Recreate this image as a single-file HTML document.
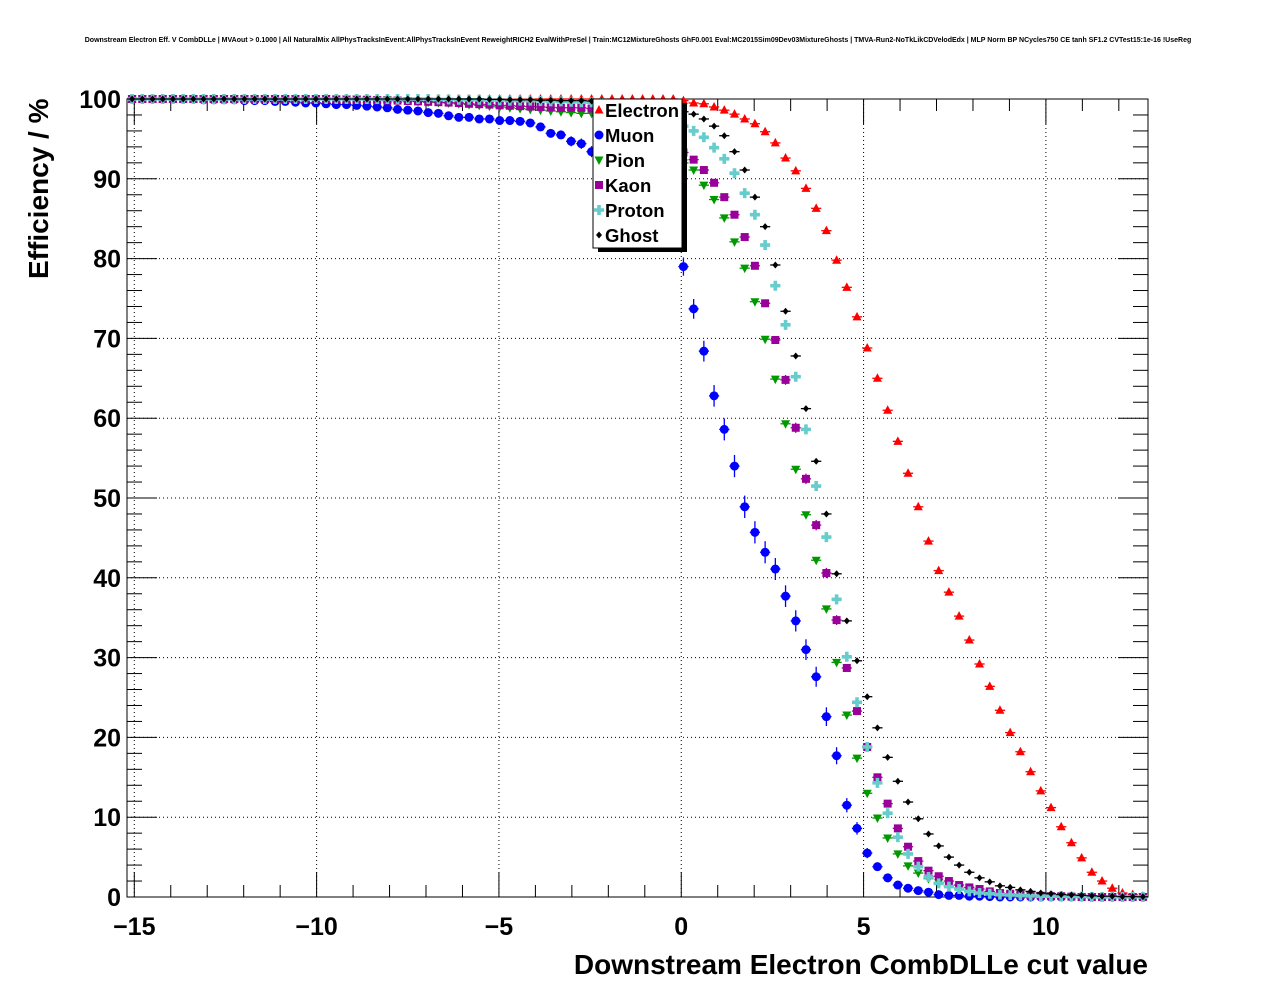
<!DOCTYPE html>
<html><head><meta charset="utf-8">
<style>
html,body{margin:0;padding:0;background:#fff;}
body{width:1276px;height:996px;overflow:hidden;font-family:"Liberation Sans",sans-serif;}
svg text{font-family:"Liberation Sans",sans-serif;}
</style></head>
<body>
<svg id="chart" width="1276" height="996" xmlns="http://www.w3.org/2000/svg">
<text x="638" y="42" text-anchor="middle" font-size="7" font-weight="bold">Downstream Electron Eff. V CombDLLe | MVAout &gt; 0.1000 | All NaturalMix AllPhysTracksInEvent:AllPhysTracksInEvent ReweightRICH2 EvalWithPreSel | Train:MC12MixtureGhosts GhF0.001 Eval:MC2015Sim09Dev03MixtureGhosts | TMVA-Run2-NoTkLikCDVelodEdx | MLP Norm BP NCycles750 CE tanh SF1.2 CVTest15:1e-16 !UseReg</text>
<g id="grid"></g>
<g id="axes"></g>
<g id="marks"></g>
<g id="legend"></g>
<text transform="translate(48,279) rotate(-90)" font-size="28" font-weight="bold">Efficiency / %</text>
<text x="1148" y="974" text-anchor="end" font-size="28" font-weight="bold">Downstream Electron CombDLLe cut value</text>
</svg>
<script>
const xTicks=[-15,-10,-5,0,5,10];
const xTickLabels=["\u221215","\u221210","\u22125","0","5","10"];
const yTicks=[0,10,20,30,40,50,60,70,80,90,100];
const binStart=-15.2, binWidth=0.28, nBins=100;
const speciesNames=["Electron","Muon","Pion","Kaon","Proton","Ghost"];
function pad(arr,n,v){const o=arr.slice();while(o.length<n)o.push(v);return o;}
function fill(v,n){return new Array(n).fill(v);}
const electron=fill(100,54).concat([99.8,99.5,99.4,99,98.6,98.1,97.5,96.9,95.9,94.5,92.6,91,88.8,86.3,83.5,79.8,76.4,72.7,68.8,65,61,57.1,53.1,48.9,44.6,40.9,38.2,35.2,32.2,29.2,26.4,23.4,20.6,18.2,15.7,13.3,11.2,8.8,6.8,4.9,3.1,2,1.1,0.5,0.3,0.1]);
const muon=pad([100,100,100,100,100,100,100,99.9,99.9,99.9,99.9,99.8,99.8,99.8,99.7,99.7,99.6,99.5,99.5,99.4,99.3,99.3,99.2,99.1,99.0,
98.9,98.7,98.6,98.5,98.3,98.2,97.9,97.7,97.7,97.5,97.5,97.3,97.3,97.2,97.0,96.5,95.7,95.5,94.7,94.4,93.4,
92.5,91.5,90.3,89,87.5,86,84.3,82.5,
79,73.7,68.4,62.8,58.6,54,48.9,45.7,43.2,41.1,37.7,34.6,31,27.6,22.6,17.7,11.5,8.6,5.5,3.8,2.4,1.5,1.1,0.8,0.6,0.3,0.2,0.2,0.1,0.1,0.05],100,0);
const pion=pad(fill(100,23).concat([99.95,99.9,99.9,99.85,99.8,99.7,99.6,99.55,99.5,99.4,99.3,99.2,99.1,99.0,98.9,98.8,98.7,98.6,98.5,98.4,98.3,98.2,98.2,
97.8,97.3,96.8,96.2,95.5,94.7,93.8,92.8,92.0,
91.1,89.2,87.4,85.1,82.1,78.8,74.6,69.9,64.9,59.3,53.6,47.9,42.2,36.1,29.4,22.8,17.4,
13.0,9.9,7.4,5.4,3.9,3.0,2.3,1.8,1.4,1.1,0.8,0.6,0.5,0.4,0.3,0.2,0.15,0.1,0.1,0.05]),100,0);
const kaon=pad(fill(100,20).concat([99.95,99.9,99.9,99.9,99.85,99.8,99.8,99.75,99.7,99.65,99.6,99.55,99.5,99.4,99.35,99.3,99.2,99.15,99.1,99.05,99.0,98.95,98.9,98.9,98.9,98.8,
98.5,98,97.5,97,96.5,95.8,95,94.2,93.3,
92.4,91.1,89.5,87.7,85.5,82.7,79.1,74.4,69.8,64.8,58.8,52.4,46.6,40.6,34.7,28.7,23.3,18.8,15.0,
11.7,8.6,6.3,4.5,3.3,2.6,2.0,1.5,1.2,1.0,0.7,0.5,0.4,0.3,0.2,0.15,0.1,0.1,0.05]),100,0);
const proton=pad(fill(100,30).concat([99.95,99.95,99.9,99.9,99.9,99.85,99.85,99.8,99.8,99.8,99.75,99.7,99.7,99.65,99.6,99.6,
99.5,99.3,99,98.8,98.5,98.1,97.6,97.1,96.6,
96.0,95.2,93.9,92.5,90.7,88.2,85.5,81.7,76.6,71.7,65.2,58.6,51.5,45.1,37.3,30.1,24.4,18.8,14.3,
10.5,7.5,5.4,3.8,2.5,1.7,1.3,1.0,0.7,0.5,0.4,0.3,0.25,0.2,0.15,0.1,0.1,0.1,0.05,0.05]),100,0);
const ghost=fill(100,35).concat([99.95,99.95,99.9,99.9,99.9,99.85,99.85,99.8,99.8,99.8,
99.75,99.7,99.6,99.5,99.4,99.3,99.1,98.9,98.7,98.4,
98.1,97.5,96.6,95.4,93.4,91.1,87.7,84.0,79.2,73.4,67.8,61.2,54.6,48.0,40.5,34.6,29.6,25.1,21.2,17.5,
14.5,11.9,9.8,7.9,6.4,5.0,4.0,3.1,2.4,1.9,1.4,1.2,0.9,0.7,0.5,0.4,0.3,0.25,0.2,0.15,0.1,0.1,0.05,0.05,0.03]);

const X0=127,X1=1148,Y0=897,Y1=99;
const xMin=-15.2,xMax=12.8;
const xs=v=>X0+(v-xMin)/(xMax-xMin)*(X1-X0);
const ys=v=>Y0-(v/100)*(Y0-Y1);
const NS="http://www.w3.org/2000/svg";
function mk(tag,attrs,parent){const e=document.createElementNS(NS,tag);for(const k in attrs)e.setAttribute(k,attrs[k]);parent.appendChild(e);return e;}
const grid=document.getElementById('grid'),axes=document.getElementById('axes'),marks=document.getElementById('marks'),legend=document.getElementById('legend');

xTicks.forEach(t=>{const l=mk('line',{x1:xs(t),x2:xs(t),y1:Y0,y2:Y1,stroke:'#000','stroke-width':1,'stroke-dasharray':'1,3'},grid);

});
yTicks.forEach(t=>{const l=mk('line',{x1:X0,x2:X1,y1:ys(t),y2:ys(t),stroke:'#000','stroke-width':1,'stroke-dasharray':'1,3'},grid);

});

const fr=mk('rect',{x:X0,y:Y1,width:X1-X0,height:Y0-Y1,fill:'none',stroke:'#000','stroke-width':1},axes);


for(let v=-15;v<=12;v++){const major=v%5===0;const L=major?25:12;const x=xs(v);
 mk('line',{x1:x,x2:x,y1:Y0,y2:Y0-L,stroke:'#000'},axes);
 mk('line',{x1:x,x2:x,y1:Y1,y2:Y1+L,stroke:'#000'},axes);}
xTicks.forEach((t,i)=>{const tx=mk('text',{x:xs(t),y:935,'text-anchor':'middle','font-size':25,'font-weight':'bold'},axes);tx.textContent=xTickLabels[i];

});
for(let v=0;v<=100;v+=2){const major=v%10===0;const L=major?30:15;const y=ys(v);
 mk('line',{x1:X0,x2:X0+L,y1:y,y2:y,stroke:'#000'},axes);
 mk('line',{x1:X1,x2:X1-L,y1:y,y2:y,stroke:'#000'},axes);}
yTicks.forEach(t=>{const tx=mk('text',{x:121,y:ys(t)+9,'text-anchor':'end','font-size':25,'font-weight':'bold'},axes);tx.textContent=String(t);

});

function marker(g,shape,color,x,y){
 if(shape==='tri')mk('polygon',{points:`${x},${y-5} ${x-4.5},${y+3.5} ${x+4.5},${y+3.5}`,fill:color},g);
 else if(shape==='circ')mk('circle',{cx:x,cy:y,r:4.5,fill:color},g);
 else if(shape==='tridown')mk('polygon',{points:`${x-4.5},${y-3.5} ${x+4.5},${y-3.5} ${x},${y+5}`,fill:color},g);
 else if(shape==='sq')mk('rect',{x:x-4,y:y-4,width:8,height:8,fill:color},g);
 else if(shape==='cross')mk('path',{d:`M${x-5},${y-1.8}h3.2v-3.2h3.6v3.2h3.2v3.6h-3.2v3.2h-3.6v-3.2h-3.2z`,fill:color},g);
 else if(shape==='dia')mk('polygon',{points:`${x},${y-3.5} ${x+3},${y} ${x},${y+3.5} ${x-3},${y}`,fill:color},g);
}
const seriesDefs=[
 {name:'electron',data:electron,color:'#ff0000',shape:'tri',err:0.05},
 {name:'muon',data:muon,color:'#0000ff',shape:'circ',err:0.28},
 {name:'pion',data:pion,color:'#009900',shape:'tridown',err:0.08},
 {name:'kaon',data:kaon,color:'#990099',shape:'sq',err:0.13},
 {name:'proton',data:proton,color:'#66cccc',shape:'cross',err:0.1},
 {name:'ghost',data:ghost,color:'#000000',shape:'dia',err:0.04}];
seriesDefs.forEach(s=>{
 const g=mk('g',{},marks);
 
 
 s.data.forEach((v,k)=>{
  const c=binStart+binWidth*(k+0.5);const x=xs(c),y=ys(v);
  const hw=(xs(binWidth)-xs(0))/2;
  mk('line',{x1:x-hw,x2:x+hw,y1:y,y2:y,stroke:s.color,'stroke-width':1.3},g);
  const e=s.err*Math.sqrt(Math.max(0,v*(100-v)))/10;
  if(e>0.6)mk('line',{x1:x,x2:x,y1:ys(v+e),y2:ys(Math.max(0,v-e)),stroke:s.color,'stroke-width':1.3},g);
  marker(g,s.shape,s.color,x,y);
 });
});

mk('rect',{x:598,y:103,width:89,height:149,fill:'#000'},legend);
const lb=mk('rect',{x:593,y:99,width:89,height:149,fill:'#fff',stroke:'#000','stroke-width':1},legend);


speciesNames.forEach((n,i)=>{
 const y=110+i*25;const s=seriesDefs[i];
 const g=mk('g',{},legend);
 
 
 marker(g,s.shape,s.color,599,y);
 const t=mk('text',{x:605,y:y+7,'font-size':18.5,'font-weight':'bold'},g);t.textContent=n;
});
</script>
</body></html>
